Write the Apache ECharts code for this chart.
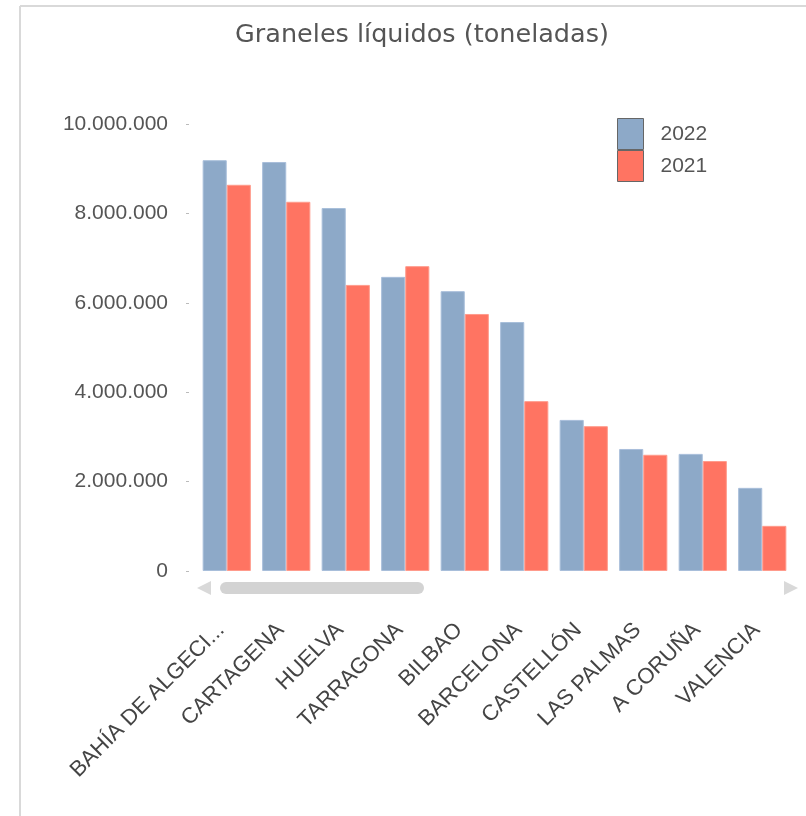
<!DOCTYPE html>
<html>
<head>
<meta charset="utf-8">
<script src="https://cdn.jsdelivr.net/npm/echarts@6/dist/echarts.min.js"></script>
<style>
html,body{margin:0;padding:0;background:#fff;}
#chart{width:806px;height:816px;}
</style>
</head>
<body>
<div id="chart"></div>
<script>
const title = 'Graneles líquidos (toneladas)';
const categories = ['BAHÍA DE ALGECI...', 'CARTAGENA', 'HUELVA', 'TARRAGONA', 'BILBAO', 'BARCELONA', 'CASTELLÓN', 'LAS PALMAS', 'A CORUÑA', 'VALENCIA'];
const seriesNames = ['2022', '2021'];
const values2022 = [9190000, 9150000, 8120000, 6580000, 6260000, 5570000, 3380000, 2730000, 2620000, 1860000];
const values2021 = [8640000, 8260000, 6400000, 6820000, 5750000, 3800000, 3240000, 2600000, 2460000, 1010000];
const yMin = 0, yMax = 10000000, yInterval = 2000000;

function fmt(v) {
  return String(Math.round(v)).replace(/\B(?=(\d{3})+(?!\d))/g, '.');
}

const chart = echarts.init(document.getElementById('chart'), null, {renderer: 'canvas'});
const grey = '#d9d9d9';
chart.setOption({
  backgroundColor: '#ffffff',
  animation: false,
  title: {
    text: title,
    left: 417, top: 17, textAlign: 'center',
    textStyle: {fontFamily: 'DejaVu Sans', fontSize: 25.5, fontWeight: 'normal', color: '#555555'}
  },
  legend: {
    orient: 'vertical',
    left: 612, top: 113,
    itemWidth: 26, itemHeight: 31, itemGap: 0,
    icon: 'rect',
    data: seriesNames,
    itemStyle: {borderColor: '#666666', borderWidth: 1},
    textStyle: {fontFamily: 'Liberation Sans', fontSize: 21, color: '#555555', padding: [0, 0, 0, 12]}
  },
  grid: {left: 197, right: 14, top: 124, bottom: 245, containLabel: false},
  xAxis: {
    type: 'category',
    data: categories,
    axisLine: {show: false},
    axisTick: {show: false},
    axisLabel: {
      rotate: 45, interval: 0, margin: 50,
      padding: [0, 8, 0, 0],
      fontFamily: 'Liberation Sans', fontSize: 22, color: '#444444'
    }
  },
  yAxis: {
    type: 'value',
    min: yMin, max: yMax, interval: yInterval,
    offset: 8,
    splitLine: {show: false},
    axisLine: {show: false},
    axisTick: {show: true, length: 3, lineStyle: {color: '#bbbbbb'}},
    axisLabel: {
      margin: 21, formatter: fmt,
      fontFamily: 'Liberation Sans', fontSize: 21, color: '#555555'
    }
  },
  series: [
    {
      name: seriesNames[0], type: 'bar', data: values2022,
      barGap: '0%', barCategoryGap: '19%',
      itemStyle: {color: '#8DA9C8', borderColor: '#A8BEDA', borderWidth: 1}
    },
    {
      name: seriesNames[1], type: 'bar', data: values2021,
      barGap: '0%', barCategoryGap: '19%',
      itemStyle: {color: '#FF7462', borderColor: '#FF9B8C', borderWidth: 1}
    }
  ],
  graphic: [
    {type: 'line', shape: {x1: 20, y1: 6, x2: 20, y2: 816}, style: {stroke: grey, lineWidth: 2}, silent: true},
    {type: 'line', shape: {x1: 20, y1: 6, x2: 806, y2: 6}, style: {stroke: grey, lineWidth: 2}, silent: true},
    {type: 'polygon', shape: {points: [[197, 588], [211, 581], [211, 595]]}, style: {fill: '#d9d9d9'}, silent: true},
    {type: 'rect', shape: {x: 220, y: 582, width: 204, height: 12, r: 6}, style: {fill: '#d3d3d3'}, silent: true},
    {type: 'polygon', shape: {points: [[798, 588], [784, 581], [784, 595]]}, style: {fill: '#d9d9d9'}, silent: true}
  ]
});
</script>
</body>
</html>
